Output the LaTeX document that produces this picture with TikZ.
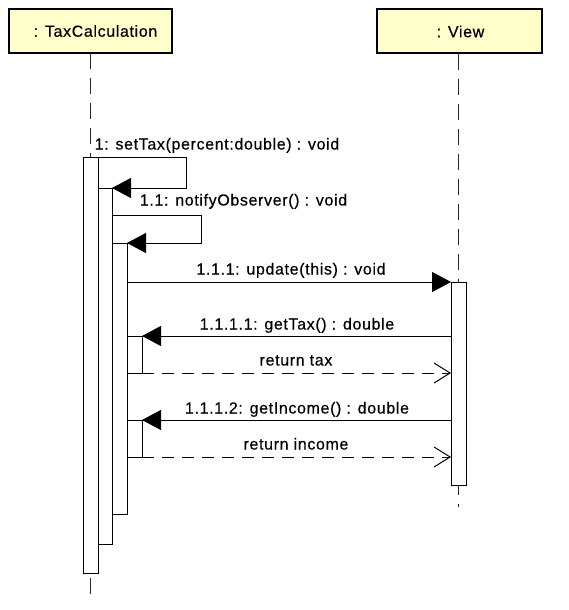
\documentclass[tikz,border=0pt]{standalone}
\usepackage{fontspec}
\setmainfont[LetterSpace=4,FakeBold=0.4]{Liberation Sans}
\usetikzlibrary{arrows.meta,calc}
\definecolor{objfill}{HTML}{FFFFCC}
\begin{document}
\begin{tikzpicture}[x=1pt,y=-1pt,
  font=\fontsize{16}{18}\selectfont,
  obj/.style={draw, line width=2pt, fill=objfill, minimum height=44pt, inner sep=0pt, outer sep=0pt},
  lifeline/.style={line width=1pt, draw=black!85, dash pattern=on 16pt off 9pt},
  actbar/.style={draw, fill=white, line width=1pt, inner sep=0pt, outer sep=0pt, minimum width=15pt},
  sync/.style={line width=1pt, -{Triangle[length=19pt,width=20pt]}},
  ret/.style={line width=1pt, dash pattern=on 12pt off 8pt, -{Straight Barb[length=16pt,width=20pt,line width=1pt]}},
  lbl/.style={inner sep=0pt, text height=12pt, text depth=3pt}]
\useasboundingbox (0,0) rectangle (568,610);

% objects
\node[obj, minimum width=163pt] (tc) at (90.5,31) {\hspace*{10pt}: TaxCalculation};
\node[obj, minimum width=165pt] (vw) at (459,31.5) {\hspace*{3pt}: View};

% lifelines
\coordinate (tcend) at (90.5,597);
\coordinate (vwend) at (458.5,507);
\draw[lifeline] (tc.south -| tcend) -- (tcend);
\draw[lifeline] (vw.south -| vwend) -- (vwend);

% activation bars
\node[actbar, minimum height=416pt] (b1) at (90.5,365) {};
\node[actbar, minimum height=356pt, minimum width=14pt] (b2) at (105,366) {};
\node[actbar, minimum height=271pt] (b3) at (119.5,378.5) {};
\node[actbar, minimum height=37pt] (b4) at (134.5,354.5) {};
\node[actbar, minimum height=37pt] (b5) at (134.5,438.5) {};
\node[actbar, minimum height=203pt] (bv) at (458.5,383.5) {};

% messages
\draw[sync] (b1.north east) -- ++(88,0) |- (b2.north east);
\node[lbl] (m1) at (217,145) {1: setTax(percent:double) : void};

\draw[sync] ($(b2.north east)+(0,27)$) -- ++(89,0) |- (b3.north east);
\node[lbl] (m11) at (243.5,201) {1.1: notifyObserver() : void};

\draw[sync] (bv.north west -| b3.east) -- (bv.north west);
\node[lbl] (m111) at (291,270) {1.1.1: update(this) : void};

\draw[sync] (b4.north east -| bv.west) -- (b4.north east);
\node[lbl] (m1111) at (297,325) {1.1.1.1: getTax() : double};
\draw[ret] (b4.south east) -- (b4.south east -| bv.west);
\node[lbl] (r1) at (296,361) {return tax};

\draw[sync] (b5.north east -| bv.west) -- (b5.north east);
\node[lbl] (m1112) at (297,409) {1.1.1.2: getIncome() : double};
\draw[ret] (b5.south east) -- (b5.south east -| bv.west);
\node[lbl] (r2) at (296,445) {return income};
\end{tikzpicture}
\end{document}
